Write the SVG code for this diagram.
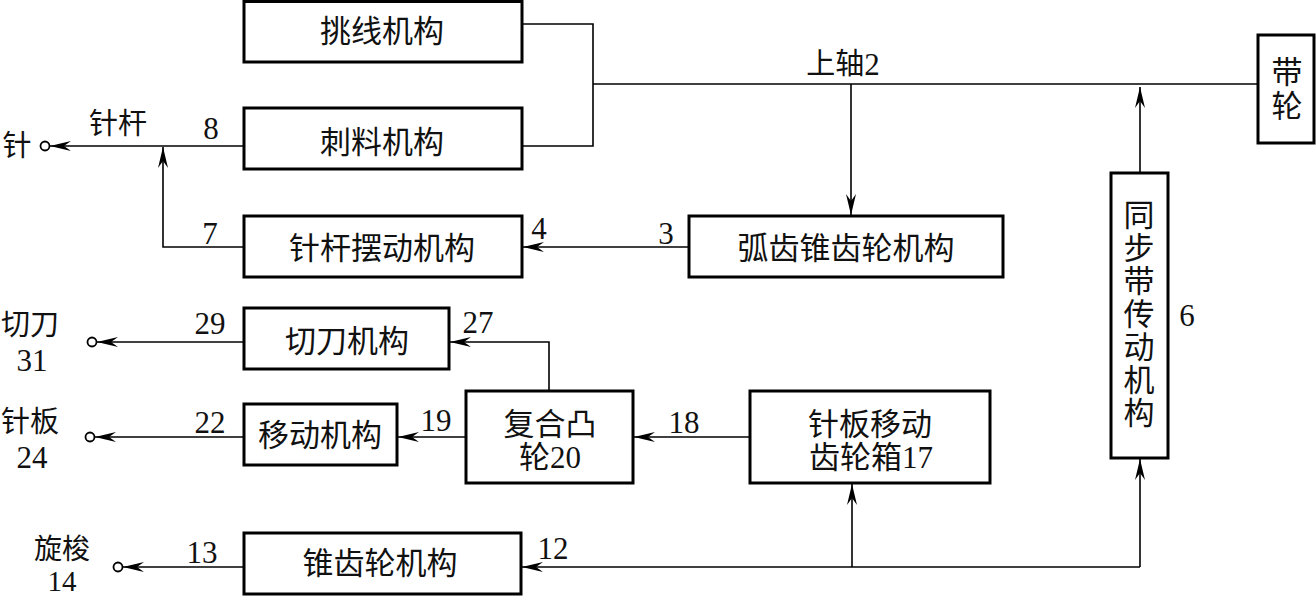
<svg xmlns="http://www.w3.org/2000/svg" width="1316" height="596" viewBox="0 0 1316 596">
<style>
.box{fill:#fff;stroke:#000;stroke-width:3}
.ln{fill:none;stroke:#000;stroke-width:1.6}
.t{font-family:"Liberation Serif","Noto Sans CJK SC",serif;font-size:31px;fill:#111;text-anchor:middle;dominant-baseline:central}
.s{font-family:"Liberation Serif","Noto Sans CJK SC",serif;font-size:29px;fill:#111;text-anchor:middle;dominant-baseline:central}
.n{font-family:"Liberation Serif","Noto Sans CJK SC",serif;font-size:31px;fill:#111;text-anchor:middle;dominant-baseline:central}
.c{fill:#fff;stroke:#000;stroke-width:1.8}
</style>
<defs>
<marker id="ah" viewBox="-24 -6 26 12" refX="0" refY="0" markerWidth="26" markerHeight="12" markerUnits="userSpaceOnUse" orient="auto">
<path d="M0,0 L-21,-5 L-14,0 L-21,5 Z" fill="#000"/>
</marker>
</defs>
<rect width="1316" height="596" fill="#fff"/>
<g id="connectors">
<polyline class="ln" points="522,24 593,24 593,146 522,146"/>
<line class="ln" x1="593" y1="84" x2="1258" y2="84"/>
<line class="ln" x1="851" y1="84" x2="851" y2="215" marker-end="url(#ah)"/>
<line class="ln" x1="1140" y1="173" x2="1140" y2="87" marker-end="url(#ah)"/>
<line class="ln" x1="689" y1="247" x2="523" y2="247" marker-end="url(#ah)"/>
<polyline class="ln" points="244,247 163,247 163,147" marker-end="url(#ah)"/>
<line class="ln" x1="244" y1="146" x2="50" y2="146" marker-end="url(#ah)"/>
<line class="ln" x1="244" y1="342" x2="97" y2="342" marker-end="url(#ah)"/>
<polyline class="ln" points="549,391 549,342 450,342" marker-end="url(#ah)"/>
<line class="ln" x1="466" y1="437" x2="398" y2="437" marker-end="url(#ah)"/>
<line class="ln" x1="244" y1="437" x2="95" y2="437" marker-end="url(#ah)"/>
<line class="ln" x1="750" y1="437" x2="634" y2="437" marker-end="url(#ah)"/>
<polyline class="ln" points="1140,567 522,567" marker-end="url(#ah)"/>
<line class="ln" x1="852" y1="567" x2="852" y2="484" marker-end="url(#ah)"/>
<line class="ln" x1="1140" y1="567" x2="1140" y2="459" marker-end="url(#ah)"/>
<line class="ln" x1="244" y1="567" x2="123" y2="567" marker-end="url(#ah)"/>
<circle class="c" cx="45" cy="146" r="4.5"/>
<circle class="c" cx="92" cy="342" r="4.5"/>
<circle class="c" cx="90" cy="437" r="4.5"/>
<circle class="c" cx="118" cy="567" r="4.5"/>
</g>
<g id="n-tiaoxian"><rect class="box" x="244" y="1.5" width="278" height="60.5"/><text class="t" x="382" y="31">挑线机构</text></g>
<g id="n-ciliao"><rect class="box" x="244" y="108" width="278" height="61"/><text class="t" x="382" y="142">刺料机构</text></g>
<g id="n-zhenganbaidong"><rect class="box" x="244" y="216" width="278" height="61"/><text class="t" x="382" y="248">针杆摆动机构</text></g>
<g id="n-huchi"><rect class="box" x="689" y="216" width="314" height="61"/><text class="t" x="846" y="248">弧齿锥齿轮机构</text></g>
<g id="n-dailun"><rect class="box" x="1258" y="35" width="56" height="108"/><text class="t" x="1287" y="72">带</text><text class="t" x="1287" y="106">轮</text></g>
<g id="n-tongbu"><rect class="box" x="1111" y="173" width="57" height="285"/>
<text class="t" x="1139" y="215">同</text><text class="t" x="1139" y="248">步</text><text class="t" x="1139" y="281">带</text><text class="t" x="1139" y="314">传</text><text class="t" x="1139" y="347">动</text><text class="t" x="1139" y="380">机</text><text class="t" x="1139" y="413">构</text></g>
<g id="n-qiedao"><rect class="box" x="244" y="308" width="205" height="61"/><text class="t" x="347" y="341">切刀机构</text></g>
<g id="n-yidong"><rect class="box" x="244" y="404" width="153" height="61"/><text class="t" x="320" y="435">移动机构</text></g>
<g id="n-fuhe"><rect class="box" x="466" y="391" width="167" height="92"/><text class="t" x="550" y="424">复合凸</text><text class="t" x="550" y="457">轮20</text></g>
<g id="n-zhenban"><rect class="box" x="750" y="391" width="240" height="92"/><text class="t" x="870" y="424">针板移动</text><text class="t" x="871" y="457">齿轮箱17</text></g>
<g id="n-zhuichi"><rect class="box" x="244" y="533" width="277" height="61"/><text class="t" x="380" y="563">锥齿轮机构</text></g>
<g id="labels">
<text class="s" x="17" y="146">针</text>
<text class="s" x="118" y="124">针杆</text>
<text class="n" x="211" y="128">8</text>
<text class="n" x="210" y="233">7</text>
<text class="n" x="539" y="228">4</text>
<text class="n" x="666" y="233">3</text>
<text class="s" x="843" y="64">上轴<tspan style="font-size:31px">2</tspan></text>
<text class="n" x="1187" y="315">6</text>
<text class="s" x="30" y="325">切刀</text>
<text class="n" x="32" y="360">31</text>
<text class="n" x="210" y="323">29</text>
<text class="n" x="478" y="322">27</text>
<text class="s" x="30" y="422">针板</text>
<text class="n" x="32" y="457">24</text>
<text class="n" x="210" y="422">22</text>
<text class="n" x="436" y="420">19</text>
<text class="n" x="684" y="422">18</text>
<text class="s" x="62" y="549" style="font-size:28px">旋梭</text>
<text class="n" x="62" y="581" style="font-size:29px">14</text>
<text class="n" x="202" y="552">13</text>
<text class="n" x="553" y="548">12</text>
</g>
</svg>
